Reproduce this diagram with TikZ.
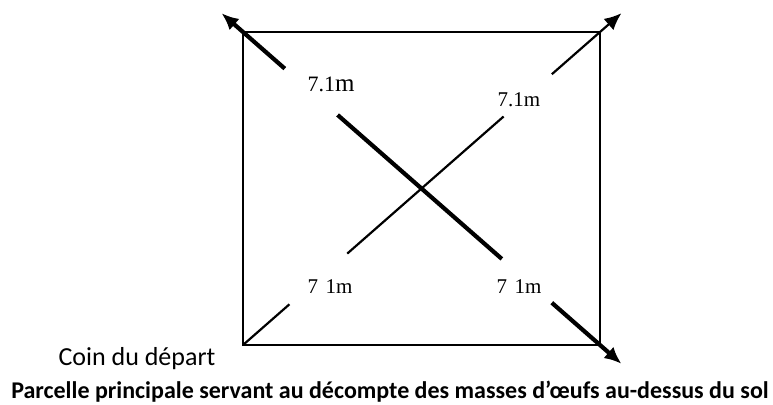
\documentclass[tikz,border=0pt]{standalone}
\usepackage{fontspec}
\setmainfont{Carlito}
\newfontfamily\timesfont{Liberation Serif}
\usetikzlibrary{arrows.meta, calc}

\begin{document}
\begin{tikzpicture}[
    x=1pt, y=-1pt,
    border/.style={line width=2.2pt},
    thickdiag/.style={line width=4.2pt},
    thindiag/.style={line width=2.2pt},
    thickarrow/.style={thickdiag, -{Latex[length=17pt, width=15pt]}},
    thinarrow/.style={thindiag, -{Latex[length=17pt, width=15pt]}},
    dist/.style={font=\timesfont\fontsize{21}{23}\selectfont, inner sep=0pt, anchor=base},
    note/.style={font=\fontsize{26}{30}\selectfont, inner sep=0pt, anchor=base},
    caption/.style={font=\bfseries\fontsize{24}{28}\selectfont, inner sep=0pt, anchor=base}
]

\useasboundingbox (0,0) rectangle (773,404);

\coordinate (nw) at (243,32);
\coordinate (ne) at (600,32);
\coordinate (sw) at (243,345);
\coordinate (se) at (600,345);

\draw[border] (nw) -- (ne) -- (se) -- (sw) -- cycle;

% diagonale epaisse
\draw[thickarrow] ($(nw)!0.117!(se)$) -- ($(nw)!-0.06!(se)$);
\draw[thickdiag] ($(nw)!0.265!(se)$) -- ($(nw)!0.725!(se)$);
\draw[thickarrow] ($(nw)!0.865!(se)$) -- ($(nw)!1.06!(se)$);

% diagonale fine
\draw[thindiag] (sw) -- ($(sw)!0.13!(ne)$);
\draw[thindiag] ($(sw)!0.292!(ne)$) -- ($(sw)!0.73!(ne)$);
\draw[thinarrow] ($(sw)!0.865!(ne)$) -- ($(sw)!1.06!(ne)$);

\node[dist] (distNW) at (331,91) {{\fontsize{22}{23}\selectfont 7.1}{\fontsize{25}{27}\selectfont m}};
\node[dist] (distNE) at (519,106) {7.1m};
\node[dist] (distSW) at (330,293) {7\hspace{0.35em}1m};
\node[dist] (distSE) at (519,293) {7\hspace{0.35em}1m};

\node[note] (start) at (137,365) {Coin du départ};
\node[caption] (title) at (390,398) {Parcelle principale servant au décompte des masses d’œufs au-dessus du sol};

\end{tikzpicture}
\end{document}
